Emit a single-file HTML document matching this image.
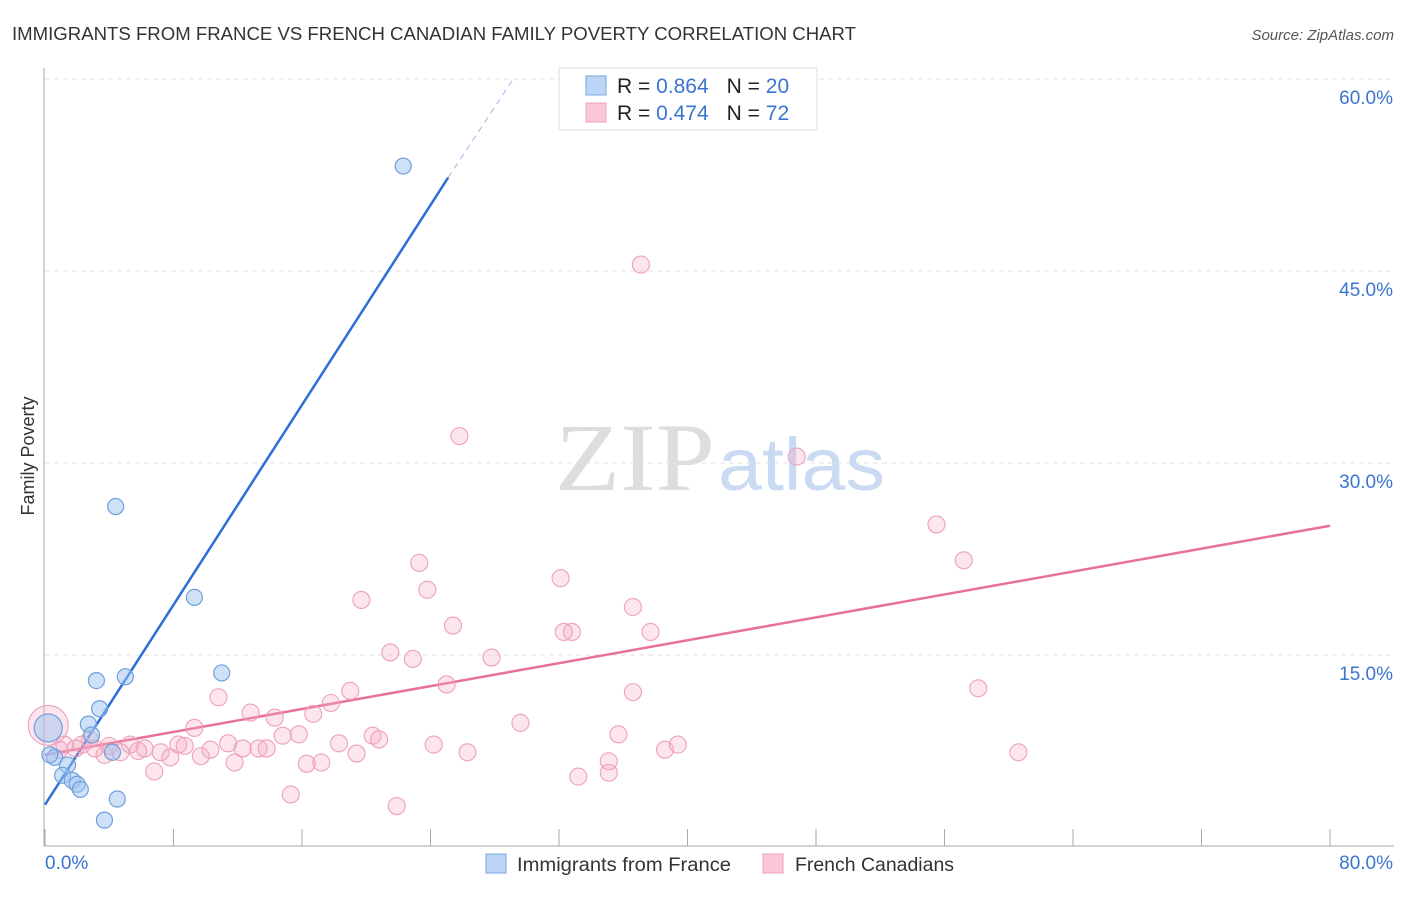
<!DOCTYPE html>
<html><head><meta charset="utf-8"><style>
body{margin:0;background:#fff;font-family:"Liberation Sans",sans-serif}
svg text{font-family:"Liberation Sans",sans-serif}
</style></head><body>
<svg width="1406" height="892">
<text x="12" y="40" font-size="18" fill="#333" textLength="844" lengthAdjust="spacingAndGlyphs">IMMIGRANTS FROM FRANCE VS FRENCH CANADIAN FAMILY POVERTY CORRELATION CHART</text>
<text x="1394" y="40" font-size="15" fill="#555" font-style="italic" text-anchor="end">Source: ZipAtlas.com</text>
<text x="555" y="490" font-size="96" fill="#ddd" textLength="160" lengthAdjust="spacingAndGlyphs" style="font-family:'Liberation Serif',serif">ZIP</text>
<text x="718" y="490" font-size="74" fill="#c9daf2" textLength="167" lengthAdjust="spacingAndGlyphs">atlas</text>
<g id="grid"></g><g id="axes"></g><g id="lines"></g><g id="pts"></g>
<text transform="translate(34,456) rotate(-90)" font-size="18" fill="#333" text-anchor="middle">Family Poverty</text>
<text x="45" y="869" font-size="19" fill="#3a75d0">0.0%</text>
<text x="1393" y="869" font-size="19" fill="#3a75d0" text-anchor="end">80.0%</text>
<g>
<rect x="559" y="68" width="258" height="62" fill="#fff" stroke="#ddd"/>
<rect x="586" y="76" width="20" height="19" fill="#bcd4f5" stroke="#7aa6e0"/>
<rect x="586" y="103" width="20" height="19" fill="#fac7d6" stroke="#ef9fb9"/>
<text x="617" y="93" font-size="21" fill="#222">R = <tspan fill="#3a75d0">0.864</tspan><tspan dx="18">N = </tspan><tspan fill="#3a75d0">20</tspan></text>
<text x="617" y="120" font-size="21" fill="#222">R = <tspan fill="#3a75d0">0.474</tspan><tspan dx="18">N = </tspan><tspan fill="#3a75d0">72</tspan></text>
</g>
<g>
<rect x="486" y="854" width="20" height="19" fill="#bcd4f5" stroke="#7aa6e0"/>
<text x="517" y="871" font-size="19.5" fill="#333" textLength="214" lengthAdjust="spacingAndGlyphs">Immigrants from France</text>
<rect x="763" y="854" width="20" height="19" fill="#fac7d6" stroke="#ef9fb9"/>
<text x="795" y="871" font-size="19.5" fill="#333" textLength="159" lengthAdjust="spacingAndGlyphs">French Canadians</text>
</g>
</svg>
<script>
const yTicks=[15,30,45,60];
const xTicks=[0,8,16,24,32,40,48,56,64,72,80];
const blueX=[22.3,4.4,9.3,11.0,5.0,3.2,3.4,2.7,2.9,0.2,4.2,0.6,1.4,1.1,1.7,2.0,2.2,4.5,3.7,0.3];
const blueY=[53.2,26.6,19.5,13.6,13.3,13.0,10.8,9.6,8.75,9.3,7.4,7.0,6.4,5.6,5.2,4.9,4.5,3.75,2.1,7.2];
const blueR=[8,8,8,8,8,8,8,8,8,14,8,8,8,8,8,8,8,8,8,8];
const pinkX=[37.1,25.8,46.8,55.5,57.2,23.3,32.1,23.8,19.7,36.6,25.4,32.3,32.8,37.7,21.5,22.9,27.8,58.1,25.0,19.0,36.6,10.8,17.8,12.8,14.3,16.7,29.6,9.3,14.8,15.8,20.4,20.8,35.7,18.3,11.4,8.3,8.7,5.3,1.2,2.3,3.1,3.7,4.7,6.2,7.2,7.8,10.3,12.3,13.3,13.8,24.2,26.3,19.4,9.7,38.6,39.4,60.6,6.8,11.8,16.3,17.2,35.1,33.2,35.1,15.3,21.9,0.2,0.9,1.9,2.8,4.0,5.8];
const pinkY=[45.5,32.1,30.5,25.2,22.4,22.2,21.0,20.1,19.3,18.75,17.3,16.8,16.8,16.8,15.2,14.7,14.8,12.4,12.7,12.2,12.1,11.7,11.25,10.5,10.1,10.4,9.7,9.3,8.7,8.8,8.7,8.4,8.8,8.1,8.1,8.0,7.9,8.0,8.0,8.0,7.7,7.2,7.4,7.7,7.4,7.0,7.6,7.7,7.7,7.7,8.0,7.4,7.3,7.1,7.6,8.0,7.4,5.9,6.6,6.5,6.6,6.7,5.5,5.8,4.1,3.2,9.5,7.6,7.7,8.4,7.9,7.5];
const blueLine=[[0,3.3],[25.1,52.3]];
const blueDash=[[25.1,52.3],[29.1,59.9]];
const pinkLine=[[0,7.2],[80,25.1]];
const X=v=>45+v*1285/80, Y=v=>847-v*192/15;
const NS='http://www.w3.org/2000/svg';
function mk(tag,attrs,parent){const e=document.createElementNS(NS,tag);for(const k in attrs)e.setAttribute(k,attrs[k]);document.getElementById(parent).appendChild(e);return e;}
yTicks.forEach(t=>{
 const l=mk('line',{x1:45,x2:1394,y1:Y(t),y2:Y(t),stroke:'#e2e2e2','stroke-dasharray':'5,4'},'grid');
 
 
 const tx=mk('text',{x:1393,y:Y(t)+25,'font-size':19,fill:'#3a75d0','text-anchor':'end'},'grid');
 tx.textContent=t.toFixed(1)+'%';
 
 
});
let a=mk('line',{x1:44,x2:44,y1:68,y2:846,stroke:'#aaa'},'axes');


a=mk('line',{x1:44,x2:1394,y1:846,y2:846,stroke:'#aaa'},'axes');


xTicks.forEach(t=>{
 const l=mk('line',{x1:X(t),x2:X(t),y1:829,y2:846,stroke:'#aaa'},'axes');
 
 
});
function line(seg,col,dash,name){
 const l=mk('line',{x1:X(seg[0][0]),y1:Y(seg[0][1]),x2:X(seg[1][0]),y2:Y(seg[1][1]),stroke:col,'stroke-width':dash?1:2.5},'lines');
 if(dash)l.setAttribute('stroke-dasharray','6,5');
 
 
}
line(blueLine,'#2a6fd6',false,'france-trend-line');
line(blueDash,'#9ab8e6',true,'france-trend-extension');
line(pinkLine,'#e8709a',false,'french-canadian-trend-line');
pinkX.forEach((v,i)=>{
 const c=mk('circle',{cx:X(v),cy:Y(pinkY[i]),r:i==66?20:8.5,fill:'rgba(246,170,196,0.3)',stroke:'#eea0ba','stroke-width':1.1},'pts');
 
 
});
blueX.forEach((v,i)=>{
 const c=mk('circle',{cx:X(v),cy:Y(blueY[i]),r:blueR[i],fill:'rgba(160,196,240,0.5)',stroke:'#6f9fdc','stroke-width':1.2},'pts');
 
 
});
</script>
</body></html>
